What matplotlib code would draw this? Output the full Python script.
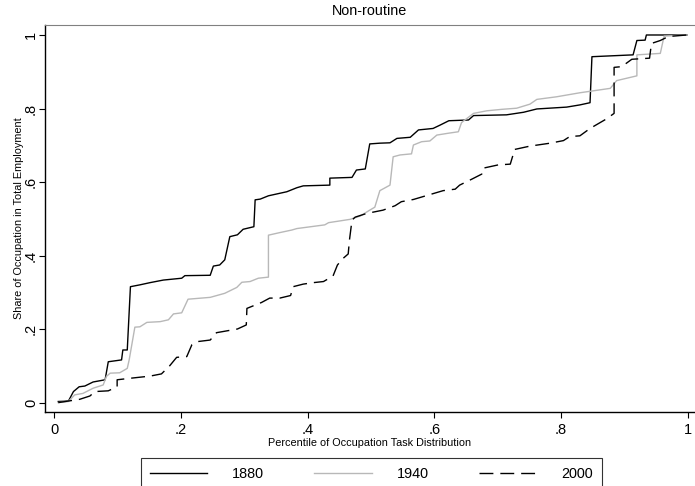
import numpy as np
from matplotlib import pyplot as plt

plt.rcParams['font.family'] = ['Liberation Sans', 'DejaVu Sans']

# percentile of task distribution vs cumulative employment share
x1880 = [.006, .022, .030, .039, .048, .061, .080, .085, .106, .108, .115, .120, .135, .151, .172,
         .201, .206, .246, .251, .261, .269, .277, .289, .298, .315, .317, .325, .338, .367, .383,
         .393, .435, .435, .470, .477, .491, .498, .514, .530, .541, .562, .575, .598, .609, .623,
         .654, .662, .714, .741, .762, .809, .830, .846, .849, .914, .920, .933, .935, .999]
y1880 = [.004, .005, .031, .044, .046, .057, .063, .112, .117, .144, .144, .316, .321, .327, .334,
         .339, .346, .347, .372, .375, .389, .452, .457, .472, .479, .552, .554, .563, .574, .585,
         .590, .592, .611, .613, .633, .636, .704, .706, .707, .719, .722, .742, .746, .755, .767,
         .769, .781, .783, .790, .799, .804, .810, .816, .941, .946, .985, .986, 1.0, 1.0]

x1940 = [.006, .022, .032, .045, .061, .077, .082, .088, .103, .115, .118, .127, .135, .146, .167,
         .180, .188, .201, .211, .246, .269, .288, .296, .309, .322, .338, .338, .356, .375, .383,
         .427, .433, .467, .483, .498, .506, .514, .530, .535, .546, .564, .567, .580, .593, .604,
         .622, .638, .643, .662, .683, .707, .730, .751, .762, .793, .830, .878, .888, .920, .920,
         .957, .963, .999]
y1940 = [.001, .004, .022, .026, .040, .049, .072, .081, .082, .094, .117, .206, .207, .219, .221,
         .226, .242, .245, .282, .287, .298, .314, .328, .330, .339, .342, .456, .463, .470, .474,
         .484, .490, .499, .508, .524, .532, .577, .592, .669, .674, .677, .701, .710, .712, .728,
         .733, .737, .762, .787, .794, .798, .801, .812, .825, .832, .843, .855, .876, .889, .946,
         .950, .997, 1.0]

x2000 = [.006, .040, .056, .064, .085, .099, .099, .119, .151, .169, .182, .193, .209, .217, .227,
         .246, .256, .289, .303, .304, .327, .340, .356, .373, .377, .393, .409, .425, .440, .447,
         .456, .464, .466, .470, .475, .493, .519, .538, .548, .567, .614, .633, .640, .659, .675,
         .677, .701, .720, .727, .751, .783, .804, .814, .830, .846, .872, .884, .884, .896, .912,
         .940, .943, .957, .970, .999]
y2000 = [.001, .010, .019, .031, .033, .044, .063, .067, .073, .079, .101, .124, .126, .158, .167,
         .171, .191, .201, .212, .257, .273, .285, .285, .292, .316, .323, .327, .330, .345, .375,
         .393, .405, .443, .497, .505, .515, .524, .536, .547, .553, .577, .581, .592, .608, .622,
         .638, .647, .649, .689, .698, .706, .713, .724, .726, .746, .772, .787, .912, .914, .934,
         .937, .977, .985, .996, 1.0]

xticks = [0, .2, .4, .6, .8, 1]
yticks = [0, .2, .4, .6, .8, 1]
ticklabels = ['0', '.2', '.4', '.6', '.8', '1']

fig = plt.figure(figsize=(6.95, 4.86), dpi=100)
ax = fig.add_axes([0.0647, 0.1523, 0.9353, 0.7963])

ax.plot(x1880, y1880, color='black', lw=1.0, label='1880')
ax.plot(x1940, y1940, color='#b8b8b8', lw=1.0, label='1940')
ax.plot(x2000, y2000, color='black', lw=1.0, dashes=(10, 5), label='2000')

ax.set_xlim(-0.015, 1.0118)
ax.set_ylim(-0.0245, 1.0272)
ax.set_xticks(xticks)
ax.set_xticklabels(ticklabels)
ax.set_yticks(yticks)
ax.set_yticklabels(ticklabels, rotation=90, va='center')
ax.tick_params(length=4, width=0.8, labelsize=10.5, pad=4)
ax.tick_params(axis='y', pad=1)

ax.spines['right'].set_visible(False)
ax.spines['top'].set_color('#808080')
ax.spines['left'].set_linewidth(1.0)
ax.spines['bottom'].set_linewidth(1.0)

ax.set_title('Non-routine', fontsize=10.4, pad=7)
ax.set_xlabel('Percentile of Occupation Task Distribution', fontsize=7.8, labelpad=1)
ax.set_ylabel('Share of Occupation in Total Employment', fontsize=7.8, labelpad=0)

leg = fig.legend(loc='upper center', bbox_to_anchor=(0.5345, 0.0576), ncol=3, fontsize=10.4,
                 frameon=True, fancybox=False, edgecolor='black', handlelength=4.0,
                 handletextpad=1.7, columnspacing=3.5, borderpad=0.6, borderaxespad=0)
leg.get_frame().set_linewidth(0.8)

plt.savefig('out.png', dpi=100)
